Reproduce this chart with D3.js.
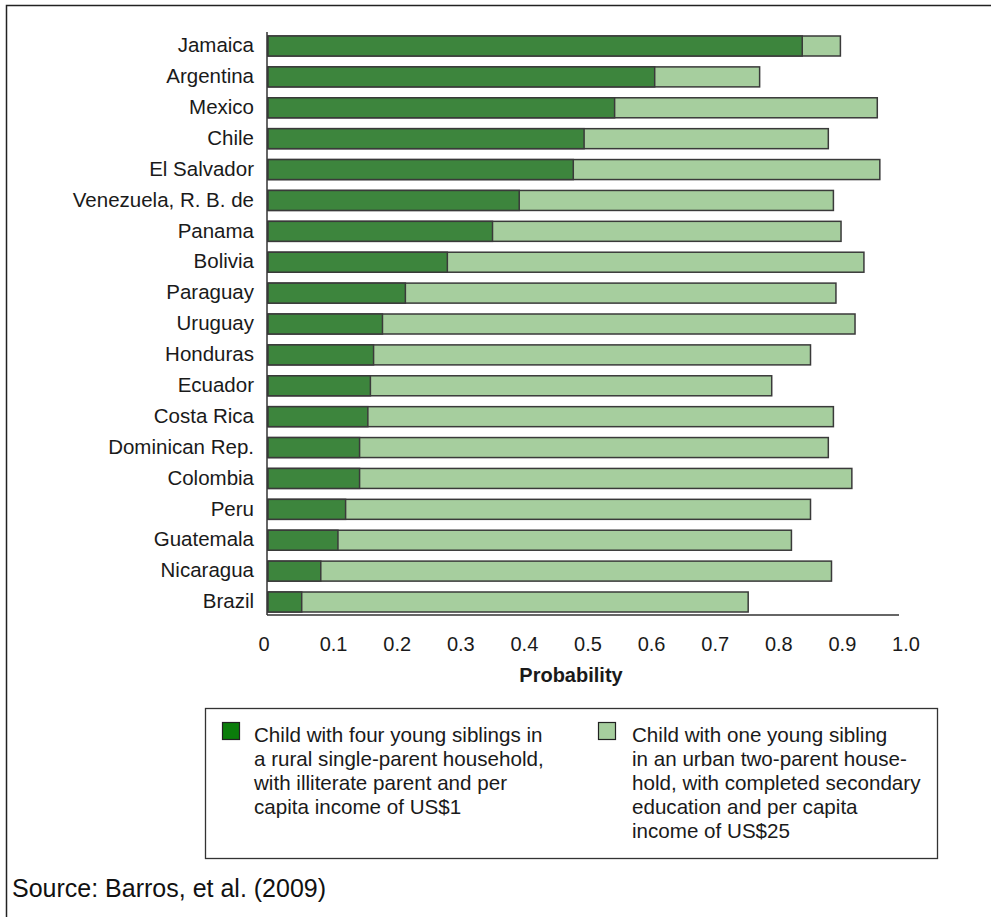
<!DOCTYPE html>
<html>
<head>
<meta charset="utf-8">
<script src="https://cdn.jsdelivr.net/npm/d3@7"></script>
<style>
  html, body { margin: 0; padding: 0; background: #fff; }
  svg { display: block; }
  text { font-family: "Liberation Sans", Arial, Helvetica, sans-serif; fill: #1a1a1a; }
</style>
</head>
<body>
<svg id="chart" width="991" height="917"></svg>
<script>
const countries = ["Jamaica","Argentina","Mexico","Chile","El Salvador","Venezuela, R. B. de","Panama","Bolivia","Paraguay","Uruguay","Honduras","Ecuador","Costa Rica","Dominican Rep.","Colombia","Peru","Guatemala","Nicaragua","Brazil"];
// probability for the disadvantaged child (dark bars)
const disadvantaged = [0.84,0.608,0.545,0.497,0.48,0.395,0.353,0.282,0.216,0.18,0.166,0.161,0.157,0.144,0.144,0.122,0.11,0.083,0.053];
// probability for the advantaged child (light bars)
const advantaged = [0.90,0.773,0.958,0.881,0.962,0.889,0.901,0.937,0.893,0.923,0.853,0.792,0.889,0.881,0.918,0.853,0.823,0.886,0.755];
const xTicks = [0,0.1,0.2,0.3,0.4,0.5,0.6,0.7,0.8,0.9,1.0];
const xTickLabels = ["0","0.1","0.2","0.3","0.4","0.5","0.6","0.7","0.8","0.9","1.0"];
const legendLabels = [
  ["Child with four young siblings in","a rural single-parent household,","with illiterate parent and per","capita income of US$1"],
  ["Child with one young sibling","in an urban two-parent house-","hold, with completed secondary","education and per capita","income of US$25"]
];
const sourceText = "Source: Barros, et al. (2009)";

const darkGreen = "#3d853d", lightGreen = "#a6ce9e", strokeCol = "#3a3a3a";
const svg = d3.select("#chart");

// outer frame (top and left visible)
svg.append("rect").attr("x", 6.5).attr("y", 5.5).attr("width", 1200).attr("height", 1200)
  .attr("fill", "none").attr("stroke", "#222").attr("stroke-width", 1.5);

const x = d3.scaleLinear().domain([0, 1]).range([268, 904]);
const y = d3.scalePoint().domain(countries).range([46, 602]);
const barH = 20;

const rows = countries.map((c, i) => ({c, d: disadvantaged[i], a: advantaged[i]}));

const g = svg.append("g");
g.selectAll("rect.adv").data(rows).join("rect").attr("class", "adv")
  .attr("x", x(0)).attr("y", d => y(d.c) - barH/2)
  .attr("width", d => x(d.a) - x(0)).attr("height", barH)
  .attr("fill", lightGreen).attr("stroke", strokeCol).attr("stroke-width", 1.5);
g.selectAll("rect.dis").data(rows).join("rect").attr("class", "dis")
  .attr("x", x(0)).attr("y", d => y(d.c) - barH/2)
  .attr("width", d => x(d.d) - x(0)).attr("height", barH)
  .attr("fill", darkGreen).attr("stroke", strokeCol).attr("stroke-width", 1.5);

// axes lines
svg.append("line").attr("x1", 267).attr("x2", 267).attr("y1", 32).attr("y2", 615)
  .attr("stroke", "#333").attr("stroke-width", 1.5);
svg.append("line").attr("x1", 267).attr("x2", 899).attr("y1", 615).attr("y2", 615)
  .attr("stroke", "#333").attr("stroke-width", 1.5);

// category labels
svg.selectAll("text.cat").data(countries).join("text").attr("class", "cat")
  .attr("x", 254).attr("y", d => y(d) - 1).attr("dy", "0.35em")
  .attr("text-anchor", "end").style("font-size", "20.5px").text(d => d);

// x tick labels
svg.selectAll("text.tick").data(xTicks).join("text").attr("class", "tick")
  .attr("x", (d, i) => x(d) - (i === 0 ? 4 : 0) + (i > 0 ? 2 : 0)).attr("y", 651)
  .attr("text-anchor", "middle").style("font-size", "20px")
  .text((d, i) => xTickLabels[i]);

svg.append("text").attr("x", 571).attr("y", 682).attr("text-anchor", "middle")
  .style("font-size", "20px").style("font-weight", "bold").text("Probability");

// legend
svg.append("rect").attr("x", 205.5).attr("y", 708.5).attr("width", 732).attr("height", 150)
  .attr("fill", "none").attr("stroke", "#333").attr("stroke-width", 1.3);
const legCols = [{sx: 222, tx: 254, fill: "#0b7d0b"}, {sx: 598, tx: 632, fill: lightGreen}];
legCols.forEach((col, k) => {
  svg.append("rect").attr("x", col.sx + 0.5).attr("y", 722.5).attr("width", 17).attr("height", 17)
    .attr("fill", col.fill).attr("stroke", "#222").attr("stroke-width", 1.2);
  svg.append("g").selectAll("text").data(legendLabels[k]).join("text")
    .attr("x", col.tx).attr("y", (d, i) => 742 + i * 24)
    .style("font-size", "20.6px").text(d => d);
});

svg.append("text").attr("x", 12).attr("y", 897).style("font-size", "25px").style("fill", "#111").text(sourceText);
</script>
</body>
</html>
